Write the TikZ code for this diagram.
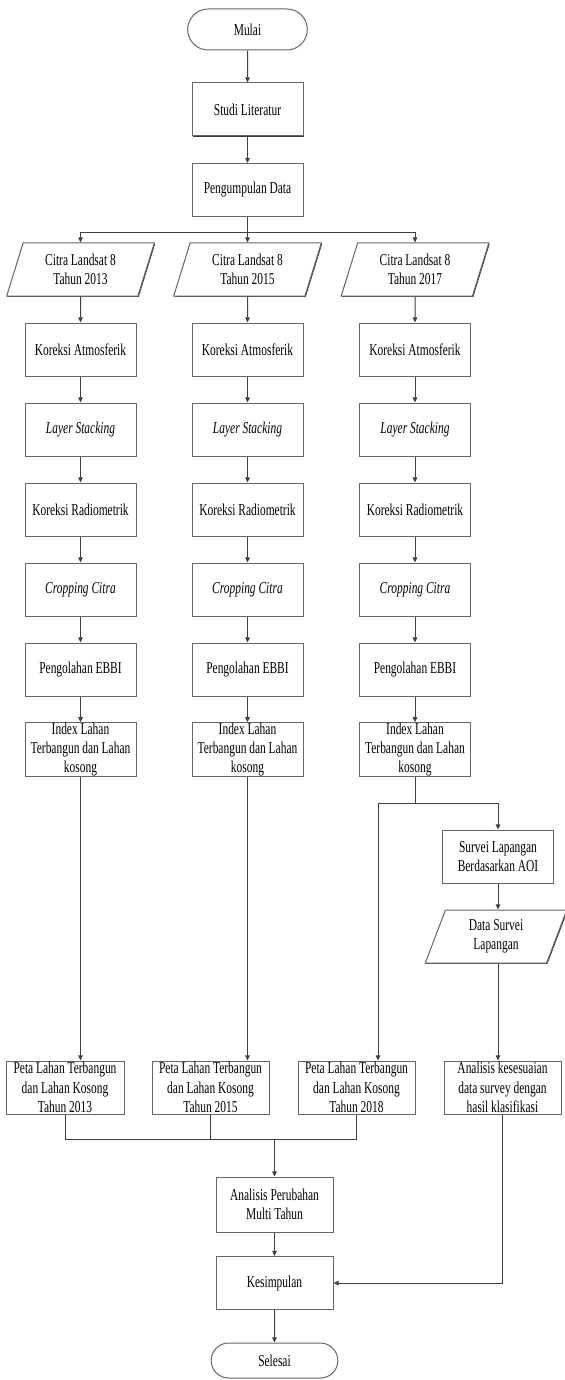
\documentclass[tikz,border=0pt]{standalone}
\usepackage{fontspec}
\setmainfont{Liberation Serif}[FakeStretch=0.69]
\usetikzlibrary{arrows.meta,shapes.geometric,shapes.misc,shadows}
\begin{document}
\begin{tikzpicture}[x=0.5pt,y=-0.5pt,line width=0.5pt,
  every node/.style={font=\fontsize{8.3}{9.6}\selectfont},
  box/.style={draw=black!60,fill=white,minimum width=55.5pt,minimum height=26.5pt,
    inner xsep=1pt,inner ysep=0pt,align=center,
    drop shadow={shadow xshift=0.45pt,shadow yshift=-0.45pt,fill=black!85,opacity=0.9}},
  data/.style={box,trapezium,trapezium left angle=71,trapezium right angle=109,
    trapezium stretches=true,minimum width=74pt},
  ujung/.style={draw=black!60,rounded rectangle,minimum width=66.5pt,minimum height=20.5pt},
  line/.style={draw=black!75},
  arr/.style={line,-{Triangle[length=2.6pt,width=2.3pt]}}]
  \useasboundingbox (0,0) rectangle (565,1380);
  \node[ujung] (mulai) at (247.5,29.5) {Mulai};
  \node[box] (studi) at (247.5,109.5) {Studi Literatur};
  \node[box] (kumpul) at (247.5,190) {Pengumpulan Data};
  \coordinate (split) at (247.5,233);
  \draw[arr] (mulai) -- (studi);
  \draw[arr] (studi) -- (kumpul);
  \draw[line] (kumpul) -- (split);
  \foreach \cx/\th/\k in {80.5/2013/a,247.5/2015/b,415/2017/c}{
    \node[data] (citra\k) at (\cx,269.5) {Citra Landsat 8\\Tahun \th};
    \node[box] (atm\k) at (\cx,349.5) {Koreksi Atmosferik};
    \node[box] (lay\k) at (\cx,429.5) {\textit{Layer Stacking}};
    \node[box] (rad\k) at (\cx,509.5) {Koreksi Radiometrik};
    \node[box] (crop\k) at (\cx,589.5) {\textit{Cropping Citra}};
    \node[box] (ebbi\k) at (\cx,669.5) {Pengolahan EBBI};
    \node[box] (idx\k) at (\cx,749.5) {Index Lahan\\Terbangun dan Lahan\\kosong};
    \draw[arr] (split) -| (citra\k.north);
    \draw[arr] (citra\k) -- (atm\k);
    \draw[arr] (atm\k) -- (lay\k);
    \draw[arr] (lay\k) -- (rad\k);
    \draw[arr] (rad\k) -- (crop\k);
    \draw[arr] (crop\k) -- (ebbi\k);
    \draw[arr] (ebbi\k) -- (idx\k);
  }
  \node[box] (survei) at (498,856.5) {Survei Lapangan\\Berdasarkan AOI};
  \node[data,minimum width=71pt] (datasurvei) at (496,936.5) {Data Survei\\Lapangan};
  \node[box,minimum width=59pt] (petaa) at (65,1087.5) {Peta Lahan Terbangun\\dan Lahan Kosong\\Tahun 2013};
  \node[box,minimum width=58.5pt] (petab) at (210.5,1087.5) {Peta Lahan Terbangun\\dan Lahan Kosong\\Tahun 2015};
  \node[box,minimum width=58.5pt] (petac) at (356.5,1087.5) {Peta Lahan Terbangun\\dan Lahan Kosong\\Tahun 2018};
  \node[box,minimum width=58.5pt] (sesuai) at (502.5,1087.5) {Analisis kesesuaian\\data survey dengan\\hasil klasifikasi};
  \node[box,minimum width=58.5pt,minimum height=27.5pt] (ubah) at (274.5,1204.5) {Analisis Perubahan\\Multi Tahun};
  \node[box,minimum width=58.5pt] (simpul) at (274.5,1283) {Kesimpulan};
  \node[ujung,minimum width=70pt,minimum height=17.5pt] (selesai) at (274.5,1360.5) {Selesai};
  \coordinate (fork) at (415,803);
  \coordinate (kiri) at (378,803);
  \coordinate (gabung) at (274.5,1139);
  \draw[arr] (idxa) -- (idxa |- petaa.north);
  \draw[arr] (idxb) -- (idxb |- petab.north);
  \draw[line] (idxc) -- (fork);
  \draw[arr] (kiri) -| (survei.north);
  \draw[arr] (kiri) -- (kiri |- petac.north);
  \draw[arr] (survei) -- (survei |- datasurvei.north);
  \draw[arr] (survei |- datasurvei.south) -- (survei |- sesuai.north);
  \draw[line] (petaa) |- (gabung) -| (petac);
  \draw[line] (petab) -- (petab |- gabung);
  \draw[arr] (gabung) -- (ubah);
  \draw[arr] (ubah) -- (simpul);
  \draw[arr] (sesuai) |- (simpul);
  \draw[arr] (simpul) -- (selesai);
\end{tikzpicture}
\end{document}
